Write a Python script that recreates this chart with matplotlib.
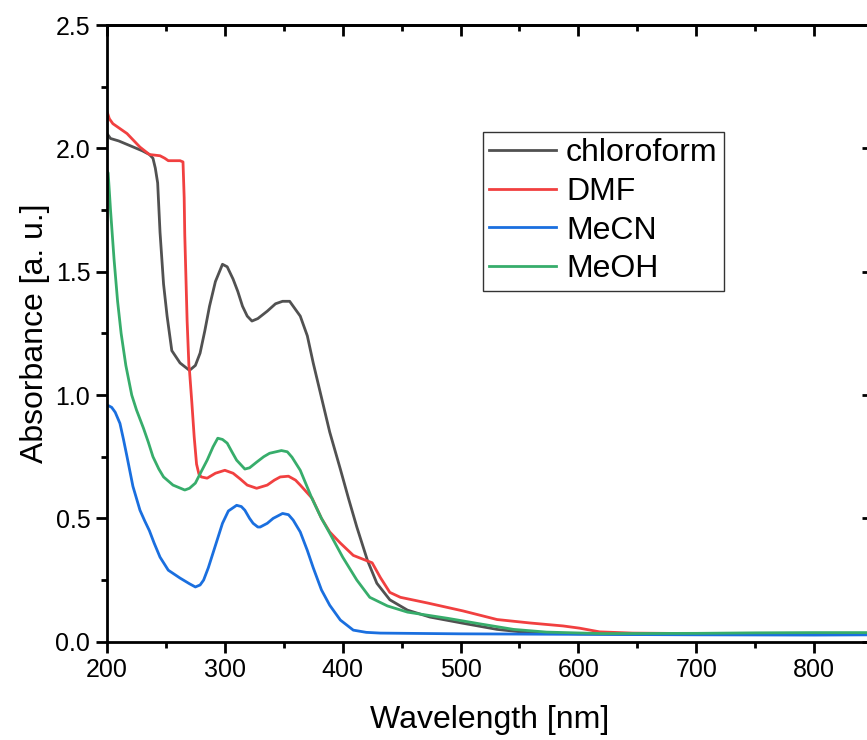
import matplotlib
matplotlib.use("Agg")
import matplotlib.pyplot as plt
from matplotlib.ticker import MultipleLocator, FormatStrFormatter

plt.rcParams['font.family'] = ['Liberation Sans', 'DejaVu Sans']

# UV-vis absorbance spectra in four solvents
wl_chcl3 = [200, 203, 210, 220, 230, 236, 239, 241, 243, 245, 248, 251, 255, 262, 270,
            275, 279, 283, 287, 292, 298, 302, 307, 311, 315, 319, 323, 328, 336, 343,
            349, 355, 361, 364, 370, 375, 381, 389, 398, 405, 412, 421, 429, 440, 455,
            474, 502, 531, 559, 601, 650, 700, 750, 800, 850]
abs_chcl3 = [2.06, 2.04, 2.03, 2.01, 1.99, 1.975, 1.96, 1.92, 1.86, 1.66, 1.45, 1.32, 1.18, 1.13, 1.10,
             1.12, 1.17, 1.26, 1.36, 1.46, 1.53, 1.52, 1.47, 1.42, 1.36, 1.32, 1.30, 1.31, 1.34, 1.37,
             1.38, 1.38, 1.34, 1.32, 1.24, 1.13, 1.01, 0.85, 0.70, 0.58, 0.465, 0.33, 0.237, 0.17, 0.128,
             0.10, 0.075, 0.05, 0.036, 0.032, 0.030, 0.029, 0.030, 0.030, 0.031]

wl_dmf = [200, 202, 205, 211, 217, 223, 228, 236, 245, 249, 252, 258, 262, 264.5, 265.5,
          266, 268, 269.5, 270, 272, 274, 276, 278, 280, 285, 292, 300, 307, 313,
          319, 327, 336, 342, 347, 354, 360, 364, 374, 382, 389, 398, 409, 417, 425,
          432, 440, 449, 472, 502, 531, 559, 587, 601, 618, 646, 700, 750, 800, 850]
abs_dmf = [2.15, 2.12, 2.10, 2.08, 2.06, 2.03, 2.005, 1.975, 1.97, 1.96, 1.95, 1.95, 1.95, 1.945, 1.80,
           1.65, 1.30, 1.12, 1.10, 0.97, 0.83, 0.72, 0.68, 0.668, 0.663, 0.683, 0.695, 0.683, 0.66,
           0.635, 0.622, 0.635, 0.655, 0.668, 0.671, 0.655, 0.635, 0.582, 0.50, 0.445, 0.40, 0.35, 0.335, 0.32,
           0.26, 0.20, 0.18, 0.157, 0.125, 0.090, 0.076, 0.064, 0.055, 0.040, 0.035, 0.033, 0.033, 0.032, 0.033]

wl_mecn = [200, 204, 207, 211, 214, 217, 222, 228, 232, 236, 240, 245, 252, 262, 270,
           275, 279, 282, 286, 290, 294, 298, 303, 310, 314, 317, 321, 324, 328, 330,
           336, 341, 349, 354, 358, 364, 370, 375, 382, 389, 398, 409, 420, 432, 500,
           600, 700, 800, 850]
abs_mecn = [0.96, 0.95, 0.93, 0.885, 0.82, 0.75, 0.63, 0.533, 0.49, 0.45, 0.40, 0.343, 0.29, 0.258, 0.235,
            0.222, 0.23, 0.25, 0.30, 0.36, 0.42, 0.48, 0.53, 0.553, 0.548, 0.533, 0.50, 0.48, 0.465, 0.465,
            0.48, 0.50, 0.52, 0.515, 0.493, 0.445, 0.37, 0.30, 0.21, 0.148, 0.088, 0.047, 0.038, 0.035, 0.032,
            0.030, 0.028, 0.027, 0.028]

wl_meoh = [200, 201, 203, 206, 209, 212, 216, 221, 225, 231, 235, 239, 244, 248, 256,
           266, 270, 275, 280, 285, 290, 294, 298, 302, 306, 310, 317, 321, 327, 333,
           338, 348, 353, 357, 364, 374, 382, 389, 400, 412, 423, 438, 455, 489, 517,
           545, 573, 620, 700, 750, 800, 850]
abs_meoh = [1.91, 1.90, 1.75, 1.55, 1.38, 1.25, 1.12, 1.00, 0.94, 0.865, 0.81, 0.75, 0.70, 0.668, 0.635,
            0.615, 0.622, 0.643, 0.69, 0.736, 0.79, 0.825, 0.82, 0.805, 0.77, 0.736, 0.70, 0.705, 0.728, 0.75,
            0.764, 0.775, 0.77, 0.748, 0.695, 0.58, 0.50, 0.44, 0.343, 0.25, 0.18, 0.145, 0.12, 0.095, 0.072,
            0.05, 0.039, 0.033, 0.034, 0.036, 0.037, 0.037]

solvents = ['chloroform', 'DMF', 'MeCN', 'MeOH']
colors = ['#515151', '#F14040', '#1A6FDF', '#37AD6B']

fig = plt.figure(figsize=(8.67, 7.40), dpi=100)
ax = fig.add_axes([0.1234, 0.1328, 0.8835, 0.8334])

series = [(wl_chcl3, abs_chcl3), (wl_dmf, abs_dmf), (wl_mecn, abs_mecn), (wl_meoh, abs_meoh)]
for (x, y), name, c in zip(series, solvents, colors):
    ax.plot(x, y, color=c, linewidth=2.0, label=name)

ax.set_xlim(200, 850)
ax.set_ylim(0, 2.5)
ax.xaxis.set_major_locator(MultipleLocator(100))
ax.xaxis.set_minor_locator(MultipleLocator(50))
ax.yaxis.set_major_locator(MultipleLocator(0.5))
ax.yaxis.set_minor_locator(MultipleLocator(0.25))
ax.yaxis.set_major_formatter(FormatStrFormatter('%.1f'))

lw = 2.0
for s in ax.spines.values():
    s.set_linewidth(lw)

ax.tick_params(which='both', direction='out', top=False, right=False, width=lw, labelsize=18, pad=4)
ax.tick_params(which='major', length=8)
ax.tick_params(which='minor', length=4.3)

# inward ticks on the top and right spines
ax_top = ax.secondary_xaxis('top')
ax_top.xaxis.set_major_locator(MultipleLocator(100))
ax_top.xaxis.set_minor_locator(MultipleLocator(50))
ax_top.tick_params(which='both', direction='in', width=lw, labeltop=False)
ax_top.tick_params(which='major', length=8)
ax_top.tick_params(which='minor', length=4.3)
ax_top.spines['top'].set_linewidth(lw)

ax_right = ax.secondary_yaxis('right')
ax_right.yaxis.set_major_locator(MultipleLocator(0.5))
ax_right.yaxis.set_minor_locator(MultipleLocator(0.25))
ax_right.tick_params(which='both', direction='in', width=lw, labelright=False)
ax_right.tick_params(which='major', length=8)
ax_right.tick_params(which='minor', length=4.3)

ax.set_xlabel('Wavelength [nm]', fontsize=23, labelpad=16)
ax.set_ylabel('Absorbance [a. u.]', fontsize=23, labelpad=4)

leg = ax.legend(loc='upper left', bbox_to_anchor=(483 / 867, 1 - 132 / 740),
                bbox_transform=fig.transFigure, borderaxespad=0, fontsize=23,
                frameon=True, fancybox=False, edgecolor='black', handlelength=2.1,
                handletextpad=0.3, labelspacing=0.27, borderpad=0.2)
leg.get_frame().set_linewidth(1.0)

fig.savefig('out.png', dpi=100)
